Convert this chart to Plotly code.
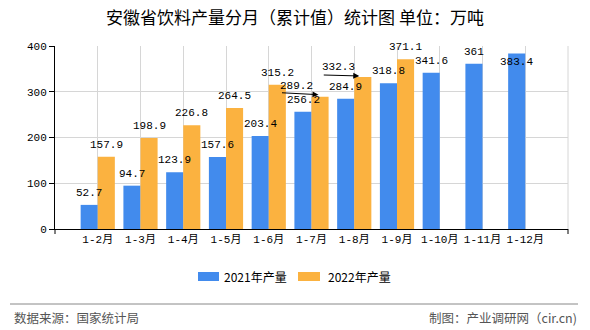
import plotly.graph_objects as go

categories = ["1-2月", "1-3月", "1-4月", "1-5月", "1-6月", "1-7月", "1-8月", "1-9月", "1-10月", "1-11月", "1-12月"]
values_2021 = [52.7, 94.7, 123.9, 157.6, 203.4, 256.2, 284.9, 318.8, 341.6, 361, 383.4]
values_2022 = [157.9, 198.9, 226.8, 264.5, 315.2, 289.2, 332.3, 371.1, None, None, None]
series_names = ["2021年产量", "2022年产量"]
y_ticks = [0, 100, 200, 300, 400]

title_text = "安徽省饮料产量分月（累计值）统计图 单位：万吨"
source_text = "数据来源：国家统计局"
credit_text = "制图：产业调研网（cir.cn)"

BLUE = "#428BED"
ORANGE = "#FBB240"
COLORS = [BLUE, ORANGE]
LABEL_FONT = dict(family="Liberation Mono, DejaVu Sans Mono, Noto Sans CJK SC", size=11, color="#000")

# plot area in pixels (for paper-coordinate helpers)
L, R, T, B = 55, 568, 46, 229
def px(x):
    return (x - L) / (R - L)
def py(y):
    return (B - y) / (B - T)

fig = go.Figure()
for s, vals in enumerate([values_2021, values_2022]):
    fig.add_trace(go.Bar(x=list(range(len(categories))), y=vals, name=series_names[s],
                         marker=dict(color=COLORS[s], line=dict(width=0)), showlegend=False))

annotations = []
special = {
    (1, 5): dict(xshift=-15, yshift=11, arrow=(7, 2, -38, -2)),
    (1, 6): dict(xshift=-16, yshift=10, arrow=(5, 1, -37, -1)),
    (0, 10): dict(xshift=-8.5, yshift=-8),
}
for s, vals in enumerate([values_2021, values_2022]):
    base_shift = -8.5 if s == 0 else 8.5
    for i, v in enumerate(vals):
        if v is None:
            continue
        sp = special.get((s, i), {})
        annotations.append(dict(x=i, y=v, xref="x", yref="y", text="%g" % v, showarrow=False,
                                xshift=sp.get("xshift", base_shift), yshift=sp.get("yshift", 12),
                                yanchor="middle", xanchor="center", font=LABEL_FONT))
        if "arrow" in sp:
            hx, hy, ax, ay = sp["arrow"]
            annotations.append(dict(x=i, y=v, xref="x", yref="y", text="", showarrow=True,
                                    xshift=hx, yshift=hy, ax=ax, ay=ay, arrowhead=2,
                                    arrowsize=1.2, arrowwidth=1, arrowcolor="#000", standoff=0))

# custom legend (wide rectangles like the reference)
legend_items = [(198, 219, 222), (298, 320, 326)]
shapes = []
for s, (x0, x1, tx) in enumerate(legend_items):
    shapes.append(dict(type="rect", xref="paper", yref="paper", x0=px(x0), x1=px(x1),
                       y0=py(281), y1=py(272), fillcolor=COLORS[s], line=dict(width=0)))
    annotations.append(dict(text=series_names[s], xref="paper", yref="paper", x=px(tx), xanchor="left",
                            y=py(276.5), yanchor="middle", showarrow=False,
                            font=dict(family="Noto Sans CJK SC", size=12, color="#000")))

annotations.append(dict(text=source_text, xref="paper", yref="paper", x=px(12), xanchor="left",
                        y=py(317), yanchor="middle", showarrow=False,
                        font=dict(family="Noto Sans CJK SC", size=12.5, color="#555")))
annotations.append(dict(text=credit_text, xref="paper", yref="paper", x=px(579), xanchor="right",
                        y=py(317), yanchor="middle", showarrow=False,
                        font=dict(family="Noto Sans CJK SC", size=12.5, color="#555")))

shapes += [
    dict(type="line", xref="paper", yref="paper", x0=1, x1=1, y0=0, y1=1,
         line=dict(color="#d6d6d6", width=1), layer="below"),
    dict(type="line", xref="paper", yref="paper", x0=0, x1=0, y0=0, y1=py(234),
         line=dict(color="#000", width=1)),
    dict(type="line", xref="paper", yref="paper", x0=1, x1=1, y0=0, y1=py(234),
         line=dict(color="#000", width=1)),
    dict(type="line", xref="paper", yref="paper", x0=px(10), x1=px(578),
         y0=py(304), y1=py(304), line=dict(color="#888", width=1)),
]

fig.update_layout(
    width=590, height=330,
    margin=dict(l=L, r=590 - R, t=T, b=330 - B),
    paper_bgcolor="white", plot_bgcolor="white",
    barmode="group", bargap=0.2, bargroupgap=0,
    showlegend=False,
    title=dict(text=title_text, x=0.5, xanchor="center", y=1 - 18 / 330, yanchor="middle",
               font=dict(family="Noto Sans CJK SC", size=17, color="#000")),
    annotations=annotations,
    shapes=shapes,
    xaxis=dict(tickmode="array", tickvals=list(range(len(categories))), ticktext=categories,
               range=[-1, len(categories)], showgrid=True, gridcolor="#d6d6d6", gridwidth=1,
               showline=True, linecolor="#000", linewidth=1, ticks="", zeroline=False,
               tickfont=dict(family="Liberation Mono, Noto Sans CJK SC", size=11, color="#000")),
    yaxis=dict(range=[0, 400], tickvals=y_ticks, showgrid=True, gridcolor="#d6d6d6", gridwidth=1,
               showline=True, linecolor="#000", linewidth=1, ticks="outside", ticklen=5,
               tickcolor="#000", zeroline=False,
               tickfont=dict(family="Liberation Mono, Noto Sans CJK SC", size=11, color="#000")),
)

fig.write_html("out.html")
